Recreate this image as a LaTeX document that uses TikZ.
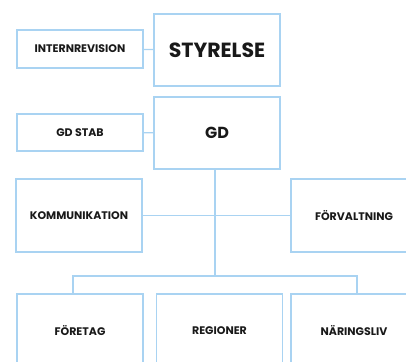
\documentclass[tikz,border=0pt]{standalone}
\usepackage{fontspec}
\setmainfont{Poppins}
\definecolor{linjeblue}{HTML}{A9D3F2}

\begin{document}
\begin{tikzpicture}[x=1pt,y=-1pt]
\tikzstyle{every node}=[font=\bfseries\fontsize{11}{13}\selectfont, text=black!90]
\tikzstyle{box}=[draw=linjeblue, line width=1.3pt, minimum width=126pt, inner sep=0pt]
\tikzstyle{wire}=[draw=linjeblue, line width=1.3pt]
\useasboundingbox (0,0) rectangle (406,361);
\clip (0,0) rectangle (406,361);

% top
\node[box, minimum height=72pt, font=\bfseries\fontsize{20.5}{23}\selectfont] (styrelse) at (217,50) {STYRELSE};
\node[box, minimum height=38pt] (internrevision) at (80,49) {INTERNREVISION};
\node[box, minimum height=72pt, font=\bfseries\fontsize{16}{18}\selectfont] (gd) at (217,133) {GD};
\node[box, minimum height=37pt] (gdstab) at (80,132.5) {GD STAB};

% stab
\node[box, minimum height=73pt] (kommunikation) at (79,215.5) {KOMMUNIKATION};
\node[box, minimum height=73pt] (forvaltning) at (354,215.5) {FÖRVALTNING};

% verksamhet
\node[box, minimum height=73pt] (foretag) at (80,330.5) {FÖRETAG};
\node[box, minimum height=73pt] (regioner) at (219.5,330.5) {REGIONER};
\node[box, minimum height=73pt] (naringsliv) at (354,330.5) {NÄRINGSLIV};

\coordinate (trunk) at (215,276);
\coordinate (busleft) at (73,276);
\coordinate (busright) at (357,276);

\draw[wire] (internrevision) -- (styrelse);
\draw[wire] (gdstab) -- (gd);
\draw[wire] (gd.south -| trunk) -- (trunk);
\draw[wire] (kommunikation) -- (forvaltning);
\draw[wire] (foretag.north -| busleft) -- (busleft) -- (busright) -- (naringsliv.north -| busright);
\end{tikzpicture}
\end{document}
